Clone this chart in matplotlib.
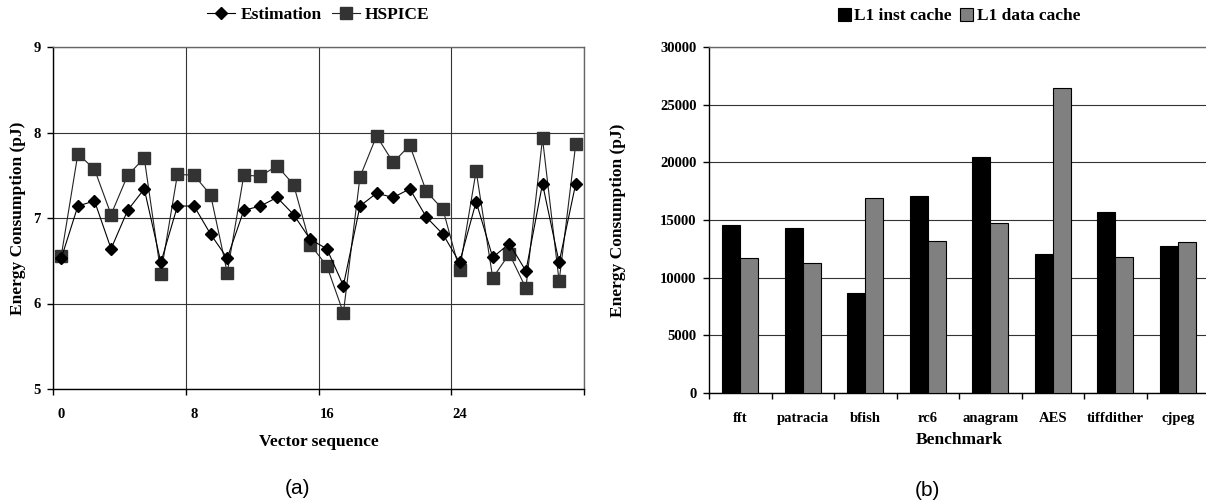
import numpy as np
import matplotlib.pyplot as plt
from matplotlib.ticker import FixedLocator, NullFormatter, FixedFormatter

# (a) energy per vector, 32 vectors
estimation = [6.53, 7.14, 7.20, 6.64, 7.09, 7.34, 6.48, 7.14, 7.14, 6.81, 6.53, 7.09,
              7.14, 7.24, 7.04, 6.75, 6.64, 6.21, 7.14, 7.29, 7.24, 7.34, 7.01, 6.81,
              6.48, 7.19, 6.54, 6.70, 6.38, 7.40, 6.48, 7.40]
hspice = [6.56, 7.75, 7.57, 7.04, 7.50, 7.70, 6.35, 7.51, 7.50, 7.27, 6.36, 7.50,
          7.49, 7.61, 7.39, 6.69, 6.44, 5.89, 7.48, 7.96, 7.65, 7.85, 7.31, 7.10,
          6.39, 7.55, 6.30, 6.58, 6.18, 7.93, 6.26, 7.86]
seq_ticks = ['0', '8', '16', '24']

# (b) cache energy per benchmark
benchmarks = ['fft', 'patracia', 'bfish', 'rc6', 'anagram', 'AES', 'tiffdither', 'cjpeg']
inst_cache = [14530, 14300, 8690, 17070, 20480, 12050, 15710, 12770]
data_cache = [11670, 11240, 16900, 13200, 14760, 26460, 11760, 13060]

serif = 'Liberation Serif'
grid_c = '#333333'


def style_axis(ax):
    ax.tick_params(axis='both', which='both', labelsize=10.5, width=1, direction='out')
    ax.tick_params(axis='y', length=4, pad=5)
    for lab in ax.get_xticklabels(which='both') + ax.get_yticklabels():
        lab.set_fontfamily(serif)
        lab.set_fontweight('bold')
    ax.spines['left'].set_color('black')
    ax.spines['bottom'].set_color('black')
    ax.spines['top'].set_color('#666666')
    ax.spines['right'].set_color('#666666')
    for s in ax.spines.values():
        s.set_linewidth(1)


def plot_sequence(fig):
    ax = fig.add_axes([53 / 1206, 114 / 503, 531 / 1206, 342 / 503])
    x = np.arange(len(hspice)) + 0.5
    ax.plot(x, estimation, color='black', lw=0.8, marker='D', ms=6.6,
            mfc='black', mec='black', label='Estimation', zorder=4)
    ax.plot(x, hspice, color='#222222', lw=0.8, marker='s', ms=8.5,
            mfc='#333333', mec='#333333', label='HSPICE', zorder=3)
    ax.set_xlim(0, 32)
    ax.set_ylim(5, 9)
    ax.set_yticks([5, 6, 7, 8, 9])
    ax.xaxis.set_major_locator(FixedLocator([0, 8, 16, 24, 32]))
    ax.xaxis.set_major_formatter(NullFormatter())
    ax.xaxis.set_minor_locator(FixedLocator([0.5, 8.5, 16.5, 24.5]))
    ax.xaxis.set_minor_formatter(FixedFormatter(seq_ticks))
    ax.tick_params(axis='x', which='major', length=4)
    ax.tick_params(axis='x', which='minor', length=0, pad=14)
    ax.grid(True, which='major', color=grid_c, lw=0.8)
    style_axis(ax)
    ax.set_ylabel('Energy Consumption (pJ)', fontsize=12.5, fontweight='bold', fontfamily=serif)
    ax.set_xlabel('Vector sequence', fontsize=12.5, fontweight='bold', fontfamily=serif)
    ax.yaxis.set_label_coords(-0.051, 0.5)
    ax.xaxis.set_label_coords(0.5, -0.132)
    ax.legend(loc='center', bbox_to_anchor=(0.5, 1.094), ncol=2, frameon=False,
              prop={'family': serif, 'weight': 'bold', 'size': 12.5},
              handlelength=1.6, handletextpad=0.3, columnspacing=0.6)


def plot_benchmark(fig):
    ax = fig.add_axes([709 / 1206, 110.3 / 503, 500 / 1206, 345.4 / 503])
    x = np.arange(len(benchmarks)) + 0.5
    w = 0.29
    ax.bar(x - w / 2, inst_cache, w, color='black', edgecolor='black', lw=0.8,
           label='L1 inst cache', zorder=3)
    ax.bar(x + w / 2, data_cache, w, color='#808080', edgecolor='black', lw=0.8,
           label='L1 data cache', zorder=3)
    ax.set_xlim(0, 8)
    ax.set_ylim(0, 30000)
    ax.set_yticks(np.arange(0, 30001, 5000))
    ax.xaxis.set_major_locator(FixedLocator(np.arange(0, 9)))
    ax.xaxis.set_major_formatter(NullFormatter())
    ax.xaxis.set_minor_locator(FixedLocator(x))
    ax.xaxis.set_minor_formatter(FixedFormatter(benchmarks))
    ax.tick_params(axis='x', which='major', length=4)
    ax.tick_params(axis='x', which='minor', length=0, pad=14)
    ax.grid(True, axis='y', color=grid_c, lw=0.8)
    ax.set_axisbelow(True)
    style_axis(ax)
    ax.set_ylabel('Energy Consumption (pJ)', fontsize=12.5, fontweight='bold', fontfamily=serif)
    ax.set_xlabel('Benchmark', fontsize=12.5, fontweight='bold', fontfamily=serif)
    ax.yaxis.set_label_coords(-0.166, 0.5)
    ax.xaxis.set_label_coords(0.5, -0.114)
    ax.legend(loc='center', bbox_to_anchor=(0.5, 1.09), ncol=2, frameon=False,
              prop={'family': serif, 'weight': 'bold', 'size': 12.5},
              handlelength=0.75, handleheight=0.75, handletextpad=0.2, columnspacing=0.5)


def run():
    fig = plt.figure(figsize=(12.06, 5.03), dpi=100)
    plot_sequence(fig)
    plot_benchmark(fig)
    fig.text(298 / 1206, 1 - 489 / 503, '(a)', ha='center', va='center',
             fontsize=15, fontfamily='Liberation Sans')
    fig.text(927 / 1206, 1 - 491 / 503, '(b)', ha='center', va='center',
             fontsize=15, fontfamily='Liberation Sans')
    fig.savefig('out.png', dpi=100)


if __name__ == '__main__':
    run()
